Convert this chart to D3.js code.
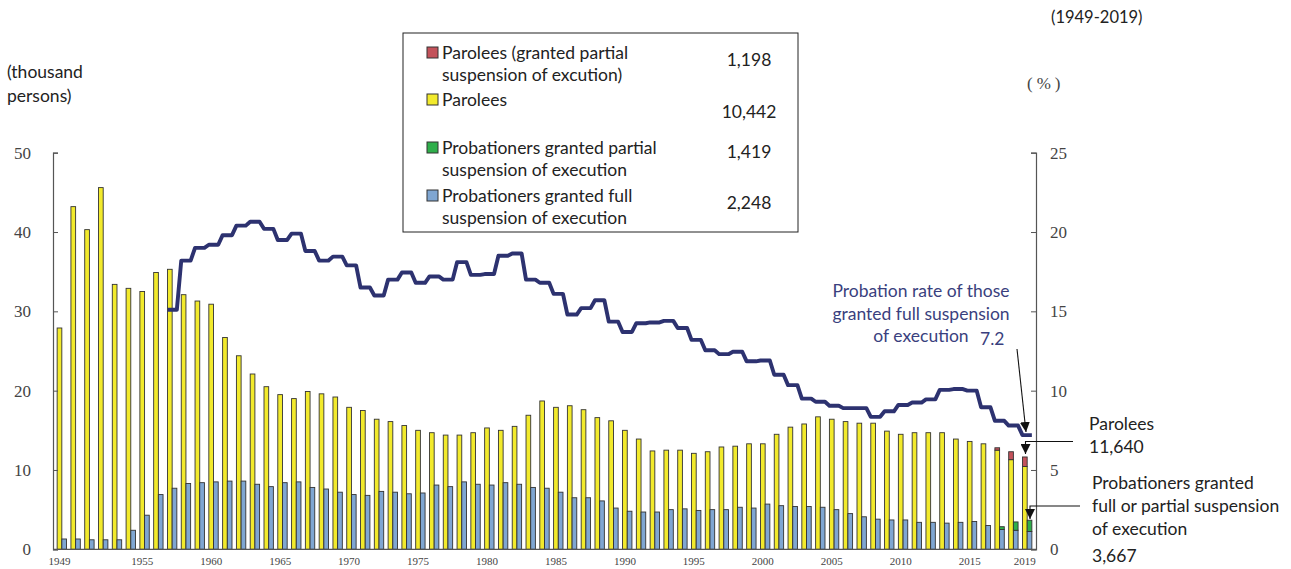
<!DOCTYPE html>
<html lang="en">
<head>
<meta charset="utf-8">
<title>Probation and parole</title>
<script src="https://cdn.jsdelivr.net/npm/d3@7"></script>
<style>
  body { margin: 0; background: #fff; }
  text { font-family: Lato, "Open Sans", sans-serif; fill: #222; }
  .num text { font-family: "Liberation Serif", serif; fill: #444; }
</style>
</head>
<body>
<script>
// categories
var years = d3.range(1949, 2020);
var xTicks = [1949, 1955, 1960, 1965, 1970, 1975, 1980, 1985, 1990, 1995, 2000, 2005, 2010, 2015, 2019];

// parolees (thousand persons)
var parolees = [
  27.9, 43.2, 40.3, 45.6, 33.4, 32.9, 32.5, 34.9, 35.3, 32.1,
  31.3, 30.9, 26.7, 24.4, 22.1, 20.5, 19.5, 19.0, 19.9, 19.6,
  19.2, 17.9, 17.5, 16.4, 16.1, 15.6, 15.0, 14.7, 14.4, 14.4,
  14.7, 15.3, 15.0, 15.5, 16.9, 18.7, 17.9, 18.1, 17.6, 16.6,
  16.2, 15.0, 13.9, 12.4, 12.5, 12.5, 12.1, 12.3, 12.9, 13.0,
  13.3, 13.3, 14.5, 15.4, 15.8, 16.7, 16.4, 16.1, 15.9, 15.9,
  14.9, 14.5, 14.7, 14.7, 14.7, 13.9, 13.6, 13.3, 12.5, 11.3,
  10.442
];
// probationers granted full suspension of execution (thousand persons)
var probFull = [
  1.3, 1.3, 1.2, 1.2, 1.2, 2.4, 4.3, 6.9, 7.7, 8.3,
  8.4, 8.5, 8.6, 8.6, 8.2, 7.9, 8.4, 8.5, 7.8, 7.6,
  7.2, 6.9, 6.8, 7.3, 7.2, 7.0, 7.1, 8.1, 7.9, 8.5,
  8.2, 8.1, 8.4, 8.2, 7.8, 7.7, 7.2, 6.5, 6.5, 6.1,
  5.2, 4.8, 4.7, 4.7, 5.0, 5.1, 4.9, 5.0, 5.0, 5.3,
  5.2, 5.7, 5.5, 5.4, 5.4, 5.3, 5.0, 4.5, 4.1, 3.8,
  3.7, 3.7, 3.4, 3.4, 3.3, 3.4, 3.5, 3.0, 2.5, 2.4,
  2.248
];
// partial suspension of execution (from 2016)
var partialYears = [2016, 2017, 2018, 2019];
var parPartial = [0, 0.3, 1.0, 1.198];
var probPartial = [0, 0.35, 1.05, 1.419];

// probation rate of those granted full suspension (%), 1957-2019
var rateYears = d3.range(1957, 2020);
var rate = [
  15.1, 18.2, 19.0, 19.2, 19.8, 20.4, 20.65, 20.2, 19.5, 19.9,
  18.8, 18.2, 18.45, 17.9, 16.5, 16.0, 17.0, 17.45, 16.8, 17.2,
  17.0, 18.1, 17.3, 17.35, 18.5, 18.65, 17.0, 16.8, 16.1, 14.8,
  15.2, 15.7, 14.35, 13.7, 14.25, 14.3, 14.4, 13.95, 13.2, 12.55,
  12.3, 12.45, 11.85, 11.9, 11.0, 10.35, 9.5, 9.3, 9.05, 8.9,
  8.9, 8.35, 8.7, 9.1, 9.25, 9.45, 10.05, 10.1, 10.0, 8.95,
  8.1, 7.8, 7.2
];

var W = 1291, H = 569;
var svg = d3.select("body").append("svg").attr("width", W).attr("height", H);

var x = d3.scaleBand().domain(years).range([53, 1036]).paddingInner(0.32).paddingOuter(0.3);
var y = d3.scaleLinear().domain([0, 50]).range([549.3, 152.7]);
var yR = d3.scaleLinear().domain([0, 25]).range([549.3, 152.7]);
var bw = x.bandwidth() / 2;

var colors = { red: "#c3525a", yellow: "#f2ea2c", green: "#2fae4b", blue: "#7fa6d2", line: "#2d3270" };

// bars
var g = svg.append("g");
g.selectAll("rect.par").data(years).enter().append("rect")
  .attr("x", function(d) { return x(d); })
  .attr("width", bw)
  .attr("y", function(d, i) { return y(parolees[i]); })
  .attr("height", function(d, i) { return y(0) - y(parolees[i]); })
  .attr("fill", colors.yellow).attr("stroke", "#333").attr("stroke-width", 0.9);

g.selectAll("rect.prob").data(years).enter().append("rect")
  .attr("x", function(d) { return x(d) + bw; })
  .attr("width", bw)
  .attr("y", function(d, i) { return y(probFull[i]); })
  .attr("height", function(d, i) { return y(0) - y(probFull[i]); })
  .attr("fill", colors.blue).attr("stroke", "#333").attr("stroke-width", 0.9);

partialYears.forEach(function(yr, k) {
  var i = years.indexOf(yr);
  if (parPartial[k] > 0) {
    g.append("rect").attr("x", x(yr)).attr("width", bw)
      .attr("y", y(parolees[i] + parPartial[k]))
      .attr("height", y(parolees[i]) - y(parolees[i] + parPartial[k]))
      .attr("fill", colors.red).attr("stroke", "#333").attr("stroke-width", 0.9);
  }
  if (probPartial[k] > 0) {
    g.append("rect").attr("x", x(yr) + bw).attr("width", bw)
      .attr("y", y(probFull[i] + probPartial[k]))
      .attr("height", y(probFull[i]) - y(probFull[i] + probPartial[k]))
      .attr("fill", colors.green).attr("stroke", "#333").attr("stroke-width", 0.9);
  }
});

// rate line: flat across each year's bars, slanted between years
var pts = [];
rateYears.forEach(function(yr, i) {
  pts.push([x(yr), rate[i]]);
  pts.push([x(yr) + x.bandwidth(), rate[i]]);
});
var line = d3.line().x(function(d) { return d[0]; }).y(function(d) { return yR(d[1]); });
svg.append("path").datum(pts).attr("d", line)
  .attr("fill", "none").attr("stroke", colors.line).attr("stroke-width", 3.9)
  .attr("stroke-linejoin", "round");

// axes
var axL = svg.append("g").attr("class", "num").attr("transform", "translate(53,0)")
  .call(d3.axisRight(y).tickValues([0, 10, 20, 30, 40, 50]).tickSize(5).tickFormat(d3.format("d")));
axL.selectAll("text").attr("x", -22).attr("text-anchor", "end").style("font-size", "17px");
var axR = svg.append("g").attr("class", "num").attr("transform", "translate(1036,0)")
  .call(d3.axisLeft(yR).tickValues([0, 5, 10, 15, 20, 25]).tickSize(5).tickFormat(d3.format("d")));
axR.selectAll("text").attr("x", 14).attr("text-anchor", "start").style("font-size", "17px");
var axB = svg.append("g").attr("class", "num").attr("transform", "translate(0,549.3)")
  .call(d3.axisBottom(x).tickValues(xTicks).tickSize(0).tickFormat(d3.format("d")));
axB.selectAll("text").attr("dx", -bw / 2).attr("y", 8).style("font-size", "11px");
[axL, axR, axB].forEach(function(a) {
  a.select(".domain").attr("stroke", "#555").attr("stroke-width", 1.2);
  a.selectAll(".tick line").attr("stroke", "#555");
});
axB.select(".domain").attr("d", "M53,0H1036");

// axis titles
svg.append("text").attr("x", 7).attr("y", 78).style("font-size", "17.5px").text("(thousand");
svg.append("text").attr("x", 7).attr("y", 102).style("font-size", "17.5px").text("persons)");
svg.append("text").attr("x", 1027).attr("y", 89).style("font-size", "17px").style("letter-spacing", "4px")
  .style("font-family", "'Liberation Serif', serif").style("fill", "#444").text("(%)");
svg.append("text").attr("x", 1051).attr("y", 23).style("font-size", "16.5px").text("(1949-2019)");

// legend
svg.append("rect").attr("x", 403).attr("y", 33).attr("width", 395).attr("height", 199)
  .attr("fill", "#fff").attr("stroke", "#222").attr("stroke-width", 1);
var legRows = [
  { c: colors.red, lines: ["Parolees (granted partial", "suspension of excution)"], v: "1,198", y: 53, vy: 60 },
  { c: colors.yellow, lines: ["Parolees"], v: "10,442", y: 100, vy: 112 },
  { c: colors.green, lines: ["Probationers granted partial", "suspension of execution"], v: "1,419", y: 148, vy: 152 },
  { c: colors.blue, lines: ["Probationers granted full", "suspension of execution"], v: "2,248", y: 196, vy: 203 }
];
legRows.forEach(function(r) {
  svg.append("rect").attr("x", 427).attr("y", r.y - 6).attr("width", 11).attr("height", 11)
    .attr("fill", r.c).attr("stroke", "#333").attr("stroke-width", 1);
  r.lines.forEach(function(t, j) {
    svg.append("text").attr("x", 442).attr("y", r.y + 6 + j * 22).style("font-size", "17.5px").text(t);
  });
  svg.append("text").attr("x", 749).attr("y", r.vy + 6).attr("text-anchor", "middle")
    .style("font-size", "17.5px").text(r.v);
});

// annotations
var defs = svg.append("defs");
defs.append("marker").attr("id", "arr").attr("viewBox", "0 0 10 10").attr("refX", 10).attr("refY", 5)
  .attr("markerWidth", 10).attr("markerHeight", 10).attr("markerUnits", "userSpaceOnUse").attr("orient", "auto")
  .append("path").attr("d", "M0,0L10,5L0,10Z").attr("fill", "#111");

var noteColor = "#3a3f7e";
["Probation rate of those", "granted full suspension"].forEach(function(t, j) {
  svg.append("text").attr("x", 921).attr("y", 297 + j * 23).attr("text-anchor", "middle")
    .style("font-size", "17.5px").style("fill", noteColor).text(t);
});
svg.append("text").attr("x", 921).attr("y", 342).attr("text-anchor", "middle")
  .style("font-size", "17.5px").style("fill", noteColor).text("of execution");
svg.append("text").attr("x", 980).attr("y", 345).style("font-size", "17.5px").style("fill", noteColor).text("7.2");
svg.append("line").attr("x1", 1017).attr("y1", 349).attr("x2", 1026).attr("y2", 432)
  .attr("stroke", "#111").attr("stroke-width", 1.1).attr("marker-end", "url(#arr)");

svg.append("path").attr("d", "M1073,441.5H1025.5V454").attr("fill", "none")
  .attr("stroke", "#111").attr("stroke-width", 1.1).attr("marker-end", "url(#arr)");
svg.append("text").attr("x", 1089).attr("y", 430).style("font-size", "17.5px").text("Parolees");
svg.append("text").attr("x", 1089).attr("y", 453).style("font-size", "17.5px").text("11,640");

svg.append("path").attr("d", "M1080,506H1030V519").attr("fill", "none")
  .attr("stroke", "#111").attr("stroke-width", 1.1).attr("marker-end", "url(#arr)");
["Probationers granted", "full or partial suspension", "of execution"].forEach(function(t, j) {
  svg.append("text").attr("x", 1092).attr("y", 489 + j * 23).style("font-size", "17.5px").text(t);
});
svg.append("text").attr("x", 1092).attr("y", 562).style("font-size", "17.5px").text("3,667");
</script>
</body>
</html>
